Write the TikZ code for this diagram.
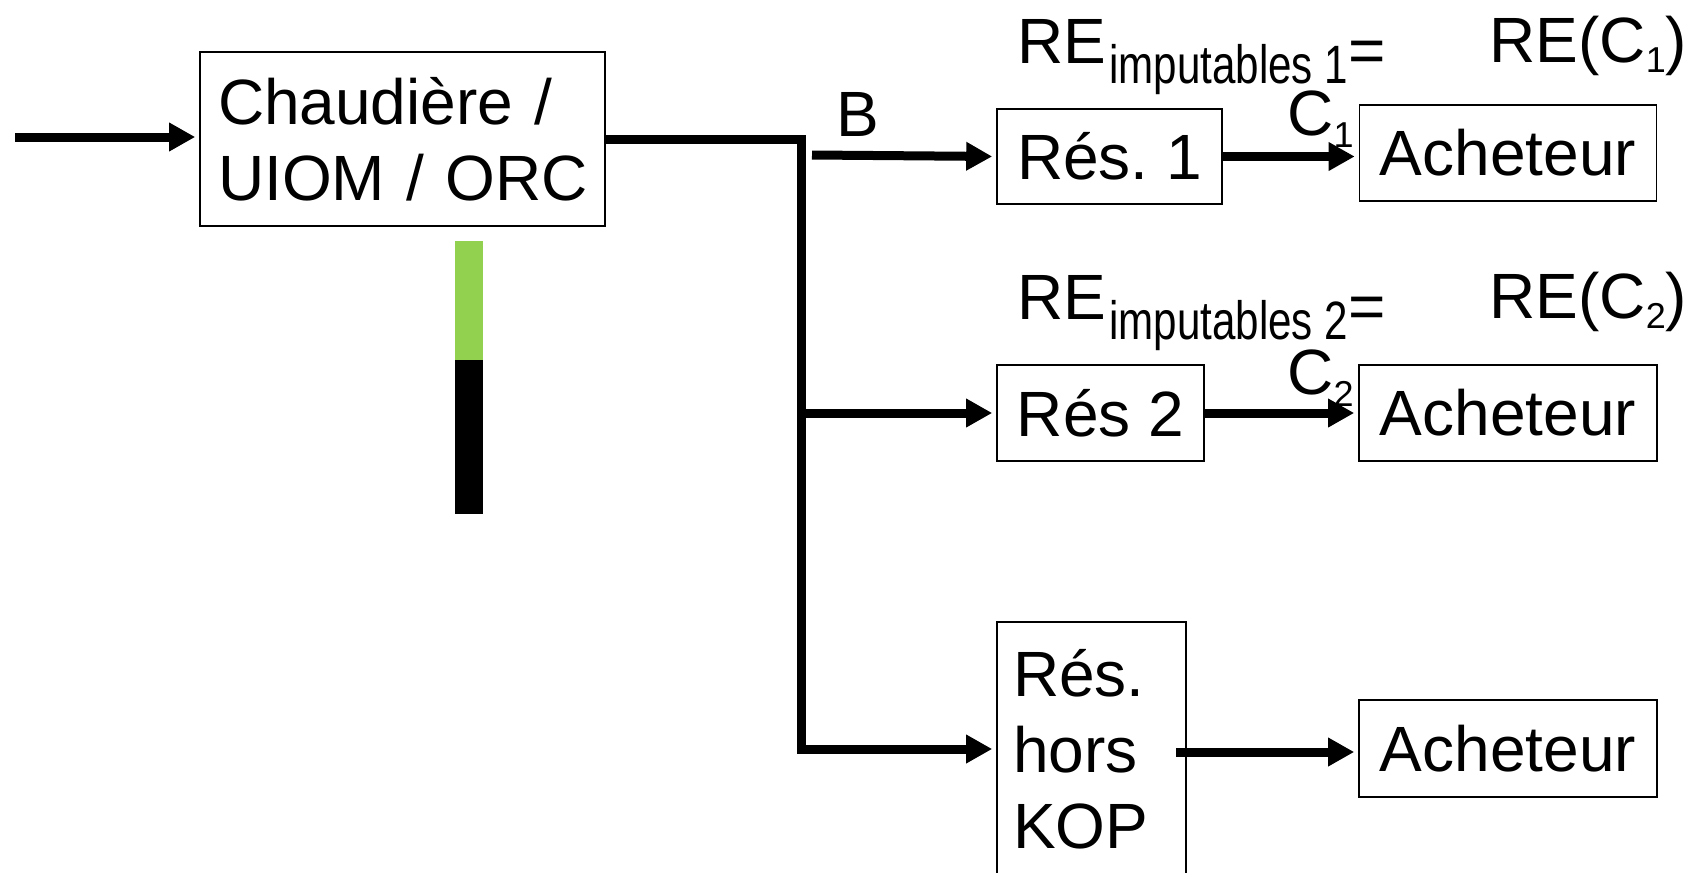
\documentclass[tikz,border=0pt]{standalone}
\usepackage{graphicx}
\usepackage{fontspec}
\setmainfont{Liberation Sans}
\usetikzlibrary{arrows.meta}
\definecolor{barGreen}{HTML}{92D050}
\frenchspacing

% narrow subscript used in the "RE imputables" labels
\newcommand{\impsub}[1]{\hspace{1.5pt}\raisebox{-10pt}{\fontsize{27}{30}\selectfont\scalebox{0.78}[1]{#1}}}
% small index after C
\newcommand{\cidx}[2]{\raisebox{#1}{\fontsize{18}{22}\selectfont #2}}

\begin{document}
\begin{tikzpicture}[x=0.5pt, y=-0.5pt,
  box/.style={draw, line width=0.8pt, inner sep=0pt,
              font=\fontsize{32}{38}\selectfont},
  wire/.style={line width=4.5pt},
  arr/.style={wire, -{Triangle[length=13pt,width=13.5pt]}, shorten >=2pt},
  lbl/.style={inner sep=0pt, anchor=base west,
              font=\fontsize{32}{38}\selectfont}]

  % page frame
  \useasboundingbox (0,0) rectangle (1704,873);

  % boxes
  \node[box, inner xsep=9pt, text width=184.5pt, align=left,
        minimum height=87pt] (main) at (402.5,139)
        {\mbox{Chaudière /}\\\mbox{UIOM / ORC}};
  \node[box, minimum width=112.5pt, minimum height=47.5pt] (res1) at (1109.5,156.5) {Rés. 1};
  \node[box, minimum width=148.5pt, minimum height=48pt] (ach1) at (1508,153) {Acheteur};
  \node[box, minimum width=103.5pt, minimum height=48pt] (res2) at (1100.5,413) {Rés 2};
  \node[box, minimum width=149pt, minimum height=48pt] (ach2) at (1508,413) {Acheteur};
  \node[box, inner xsep=8pt, text width=78.5pt, align=left,
        minimum height=127pt] (hors) at (1091.5,749)
        {\mbox{Rés.}\\\mbox{hors}\\\mbox{KOP}};
  \node[box, minimum width=149pt, minimum height=48.5pt] (ach3) at (1508,748.5) {Acheteur};

  % green / black bar
  \fill[barGreen] (455,241) rectangle (483,360);
  \fill[black] (455,360) rectangle (483,514);

  % labels
  \node[lbl] (re1) at (1017,63)
    {RE\impsub{imputables 1}\raisebox{-4.5pt}{=}};
  \node[lbl] (rec1) at (1489,62)
    {RE(C\cidx{-5pt}{1})};
  \node[lbl] (re2) at (1017,319)
    {RE\impsub{imputables 2}\raisebox{-4.5pt}{=}};
  \node[lbl] (rec2) at (1489,318)
    {RE(C\cidx{-5pt}{2})};
  \node[lbl] (blab) at (836,136) {B};
  \node[lbl] (c1) at (1287,135) {C\cidx{-6pt}{1}};
  \node[lbl] (c2) at (1287,394) {C\cidx{-6pt}{2}};

  % connector anchors
  \coordinate (src) at (15,137);
  \coordinate (bustop) at (801,139);
  \coordinate (busbot) at (801,749);
  \coordinate (bus2) at (801,413);
  \coordinate (b1start) at (812,155);
  \coordinate (hout) at (1176,752);

  % connectors
  \draw[arr] (src) -- (src -| main.west);
  \draw[arr] (main.east) -- (bustop) -- (busbot) -- (hors.west);
  \draw[arr] (bus2) -- (res2.west);
  \draw[arr] (b1start) -- (res1.west);
  \draw[arr] (res1.east) -- (res1.east -| ach1.west);
  \draw[arr] (res2.east) -- (ach2.west);
  \draw[arr] (hout) -- (hout -| ach3.west);
\end{tikzpicture}
\end{document}
